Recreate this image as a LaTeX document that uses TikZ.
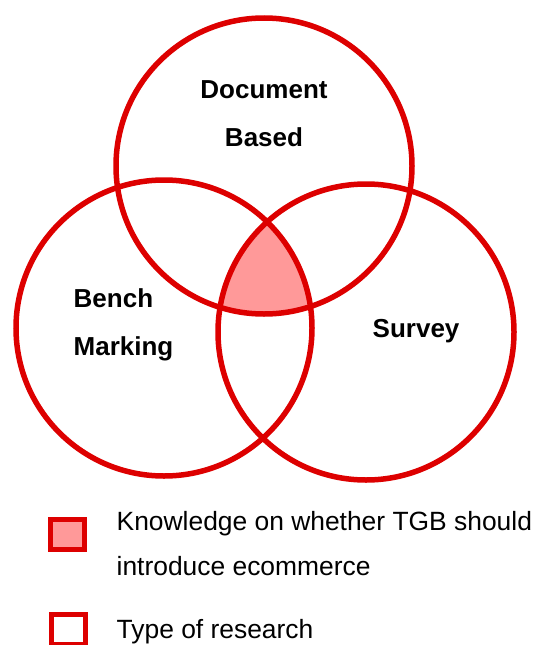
\documentclass[tikz,border=0pt]{standalone}
\usepackage{fontspec}
\setmainfont{Liberation Sans}
\definecolor{vred}{HTML}{DD0000}
\definecolor{vpink}{HTML}{FF9999}
\begin{document}
\begin{tikzpicture}[x=1pt,y=-1pt,
  ring/.style={circle, draw=vred, line width=5.5pt, inner sep=0pt, outer sep=0pt, minimum size=296pt},
  lab/.style={font=\fontsize{26}{31}\selectfont\bfseries, inner sep=0pt},
  legtxt/.style={font=\fontsize{26.4}{31}\selectfont, inner sep=0pt, anchor=base west},
  legbox/.style={draw=vred, line width=4.5pt, inner sep=0pt, minimum width=34pt, minimum height=30pt}]
\useasboundingbox (0,0) rectangle (535,645);
% intersection fill
\begin{scope}
  \clip (264,166) circle (148);
  \clip (164,328) circle (148);
  \fill[vpink] (366,332) circle (148);
\end{scope}
\node[ring] (doc) at (264,166) {};
\node[ring] (bench) at (164,328) {};
\node[ring] (survey) at (366,332) {};
\node[lab, anchor=base] (t1) at (264,98) {Document};
\node[lab, anchor=base] (t2) at (264,146) {Based};
\node[lab, anchor=base west] (t3) at (73.5,307) {Bench};
\node[lab, anchor=base west] (t4) at (73.5,355) {Marking};
\node[lab, anchor=base west] (t5) at (372.5,337) {Survey};
% legend
\node[legbox, fill=vpink] (k1) at (67.5,534.5) {};
\node[legtxt] (l1) at (116.5,530) {Knowledge on whether TGB should};
\node[legtxt] (l2) at (116.5,575) {introduce ecommerce};
\node[legbox, fill=white] (k2) at (68.5,629.5) {};
\node[legtxt] (l3) at (116.5,638) {Type of research};
\end{tikzpicture}
\end{document}
